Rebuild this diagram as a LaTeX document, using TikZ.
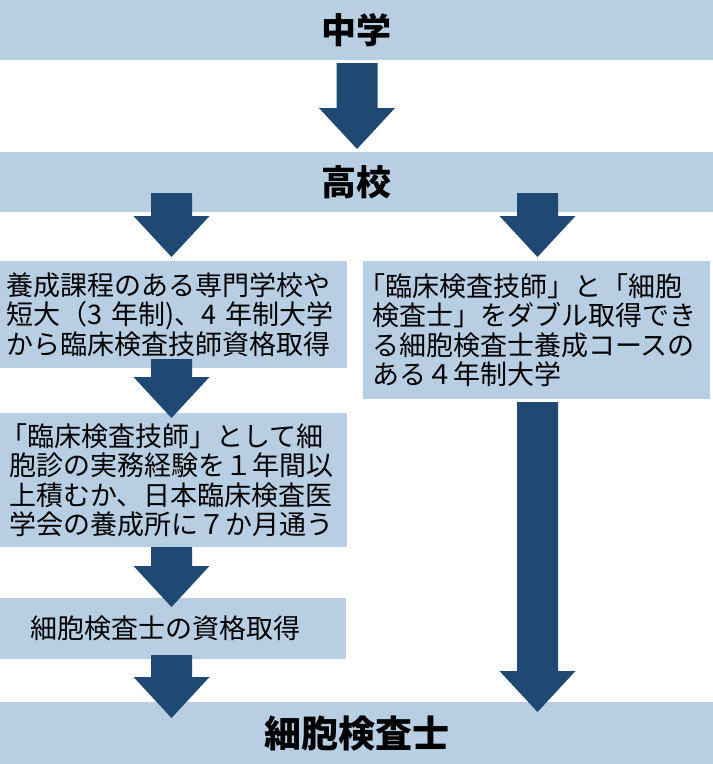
\documentclass[tikz,border=0pt]{standalone}
\usepackage{fontspec}
\setmainfont{Noto Sans CJK JP}
\definecolor{boxblue}{HTML}{B8CEE2}
\definecolor{arrowblue}{HTML}{1F4972}
\tikzset{
  bar/.style={fill=boxblue, draw=none, anchor=north west, inner sep=0pt,
    minimum width=713pt, minimum height=60pt,
    font=\fontsize{35}{40}\selectfont\bfseries},
  txtbox/.style={fill=boxblue, draw=none, anchor=north west, align=left,
    inner xsep=9pt, inner ysep=0pt,
    font=\fontsize{27}{29.3}\selectfont},
  blockarrowfill/.style={fill=arrowblue, draw=none}
}
% #1 = x of centre line, #2 = y of shaft top, #3 = y of tip (y grows downward)
\newcommand\blkarrow[3]{%
  \path[blockarrowfill] (#1-20.5,#2) -- (#1+20.5,#2) -- (#1+20.5,#3-41)
    -- (#1+38,#3-41) -- (#1,#3) -- (#1-38,#3-41) -- (#1-20.5,#3-41) -- cycle;}
% line-initial opening bracket, set half width
\newcommand\lbr{\hspace*{-0.5em}「}
\newcommand\lin{\hspace*{-4.5pt}}
\begin{document}
\begin{tikzpicture}[x=1pt, y=-1pt]
\useasboundingbox (0,0) rectangle (713,764);
% bars
\node[bar] (jhs) at (0,0) {中学};
\node[bar] (hs) at (0,152) {高校};
\node[bar, minimum height=62pt, font=\fontsize{37}{42}\selectfont\bfseries] (ct) at (0,702) {細胞検査士};
% left column
\node[txtbox, inner xsep=6pt, text width=335pt, minimum height=107pt] (b1) at (0,261)
  {養成課程のある専門学校や\\短大（3 年制)、4 年制大学\\から臨床検査技師資格取得};
\node[txtbox, inner xsep=13.5pt, text width=320pt, minimum height=134pt] (b2) at (0,413)
  {\lbr 臨床検査技師」として細\\\lin 胞診の実務経験を１年間以\\\lin 上積むか、日本臨床検査医\\\lin 学会の養成所に７か月通う};
\node[txtbox, inner xsep=30pt, text width=286pt, minimum height=61pt] (b3) at (0,598)
  {細胞検査士の資格取得};
% right column
\node[txtbox, text width=329pt, minimum height=138pt] (r1) at (363,261)
  {\lbr 臨床検査技師」と「細胞\\検査士」をダブル取得でき\\る細胞検査士養成コースの\\ある４年制大学};
% arrows
\blkarrow{357}{63}{149}
\blkarrow{171.5}{193}{257}
\blkarrow{537.5}{193}{257}
\blkarrow{171.5}{359}{418}
\blkarrow{171.5}{547}{607}
\blkarrow{171.5}{655}{718}
\blkarrow{537.5}{402}{712}
\end{tikzpicture}
\end{document}
